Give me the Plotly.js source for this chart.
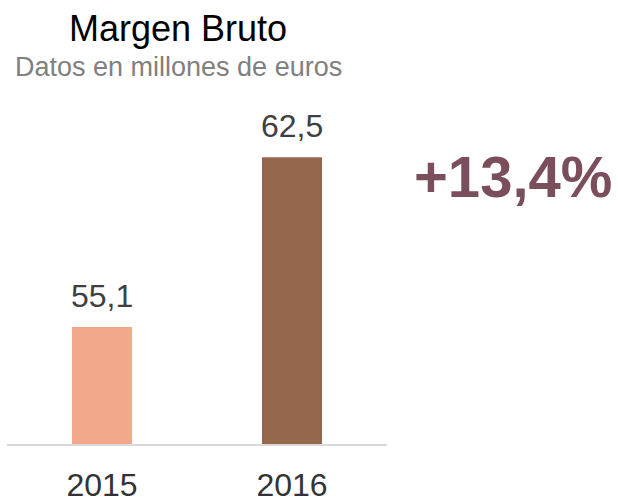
<!DOCTYPE html>
<html>
<head>
<meta charset="utf-8">
<script src="https://cdn.plot.ly/plotly-3.0.1.min.js"></script>
<style>html,body{margin:0;padding:0;background:#fff;}#chart{width:618px;height:502px;}</style>
</head>
<body>
<div id="chart"></div>
<script>
const years = ['2015', '2016'];
const values = [55.1, 62.5];
const valueLabels = ['55,1', '62,5'];
const barColors = ['#F2A88B', '#95674C'];
const changeLabel = '+13,4%';
const titleText = 'Margen Bruto';
const subtitleText = 'Datos en millones de euros';

const FONT = 'Liberation Sans, Arial, sans-serif';

const trace = {
  type: 'bar',
  x: years,
  y: values,
  marker: {color: barColors},
  width: 0.316,
  hoverinfo: 'none'
};

const annotations = years.map((yr, i) => ({
  x: i, y: values[i], xref: 'x', yref: 'y',
  text: valueLabels[i], showarrow: false,
  yanchor: 'bottom', yshift: 11,
  font: {family: FONT, size: 32, color: '#404040'}
}));

annotations.push({
  xref: 'paper', yref: 'paper', x: 0.45, y: 1.208,
  text: titleText, showarrow: false, xanchor: 'center', yanchor: 'middle',
  font: {family: FONT, size: 36, color: '#000000'}
});
annotations.push({
  xref: 'paper', yref: 'paper', x: 0.45, y: 1.0945,
  text: subtitleText, showarrow: false, xanchor: 'center', yanchor: 'middle',
  font: {family: FONT, size: 27, color: '#808080'}
});
annotations.push({
  xref: 'paper', yref: 'paper', x: 1.332, y: 0.778,
  text: '<b>' + changeLabel + '</b>', showarrow: false, xanchor: 'center', yanchor: 'middle',
  font: {family: FONT, size: 58, color: '#7A4F5B'}
});

const layout = {
  width: 618, height: 502,
  margin: {l: 7, r: 231, t: 100, b: 58},
  paper_bgcolor: '#ffffff', plot_bgcolor: '#ffffff',
  showlegend: false,
  xaxis: {
    type: 'category', range: [-0.5, 1.5],
    showline: true, linecolor: '#D9D9D9', linewidth: 2,
    showgrid: false, zeroline: false, ticks: '',
    tickfont: {family: FONT, size: 32, color: '#333333'},
    ticklabelstandoff: 12, fixedrange: true
  },
  yaxis: {
    range: [50, 65], visible: false, showgrid: false, zeroline: false, fixedrange: true
  },
  annotations: annotations
};

Plotly.newPlot('chart', [trace], layout, {displayModeBar: false, staticPlot: true});
</script>
</body>
</html>
